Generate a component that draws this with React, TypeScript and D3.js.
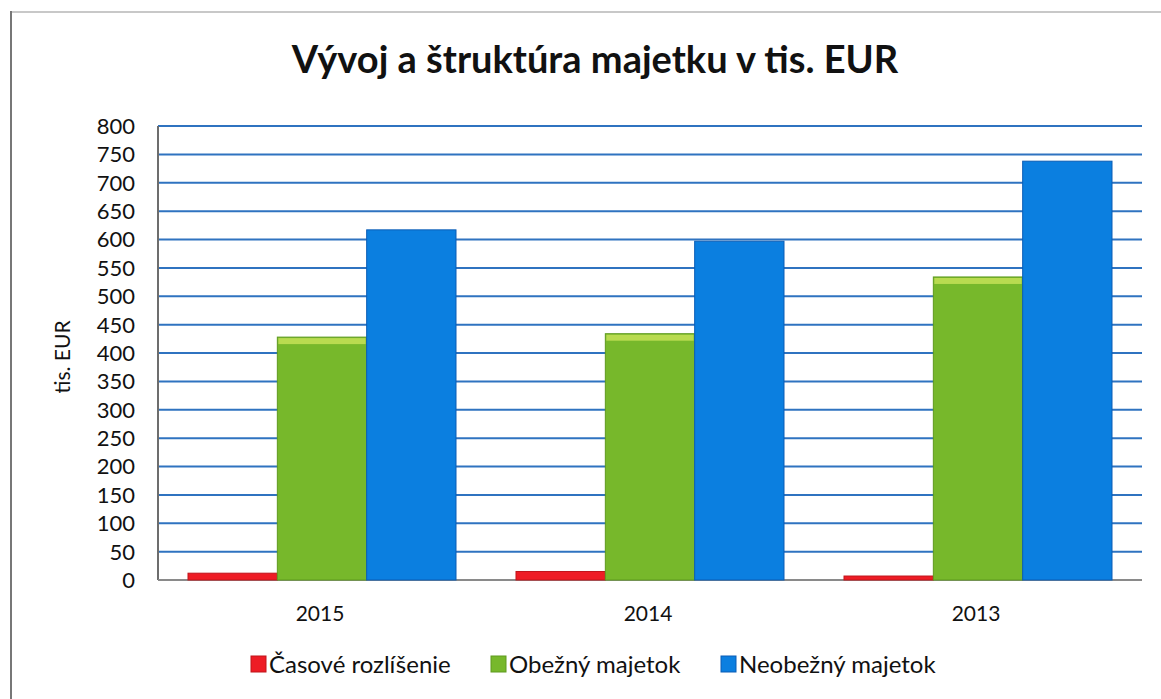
import React from 'react';
import * as d3 from 'd3';

// chart data
const years = ['2015', '2014', '2013'];
const seriesNames = ['Časové rozlíšenie', 'Obežný majetok', 'Neobežný majetok'];
const casoveRozlisenie = [12, 15, 7];
const obeznyMajetok = [428, 434, 534];
const neobeznyMajetok = [617, 597, 738];
const yTicks = [0, 50, 100, 150, 200, 250, 300, 350, 400, 450, 500, 550, 600, 650, 700, 750, 800];

const colors = ['#ee1c25', '#77b82b', '#0b7fe0'];
const edges = ['#c0141b', '#5f9a1f', '#0a5db5'];
const font = 'Lato, "Open Sans", sans-serif';

export default function App() {
  const W = 1161;
  const H = 699;
  const margin = { top: 126, right: 19, bottom: 119, left: 158 };
  const plotW = W - margin.left - margin.right;
  const plotH = H - margin.top - margin.bottom;

  const series = [casoveRozlisenie, obeznyMajetok, neobeznyMajetok];

  // x: years, inner x: series
  const x = d3.scaleBand().domain(years).range([0, plotW]).paddingInner(0).paddingOuter(0);
  const pad = 30;
  const xi = d3.scaleBand()
    .domain(seriesNames)
    .range([pad, x.bandwidth() - pad])
    .padding(0);
  const y = d3.scaleLinear().domain([0, 800]).range([plotH, 0]);

  // legend layout
  const legendX = [251, 491, 721];

  return (
    <svg width={W} height={H} style={{ display: 'block', position: 'absolute', left: 0, top: 0, background: '#fff' }}>
      {/* frame */}
      <line x1={11} y1={12} x2={W} y2={12} stroke="#c8c8c8" strokeWidth={2} />
      <line x1={11} y1={11} x2={11} y2={H} stroke="#777" strokeWidth={2} />

      <text x={595} y={73} textAnchor="middle" fontFamily={font} fontWeight={700} fontSize={38} fill="#111">
        Vývoj a štruktúra majetku v tis. EUR
      </text>

      <g transform={`translate(${margin.left},${margin.top})`}>
        {/* gridlines */}
        {yTicks.filter(t => t > 0).map(t => (
          <line key={t} x1={0} x2={plotW} y1={y(t)} y2={y(t)} stroke="#2f73c0" strokeWidth={2} />
        ))}
        {/* axes */}
        <line x1={0} x2={0} y1={0} y2={plotH} stroke="#6d6d6d" strokeWidth={2} />
        <line x1={0} x2={plotW} y1={plotH} y2={plotH} stroke="#8a8a8a" strokeWidth={2} />

        {/* y tick labels */}
        {yTicks.map(t => (
          <text key={t} x={-23} y={y(t)} dy="0.36em" textAnchor="end" fontFamily={font} fontSize={22} fill="#111">
            {t}
          </text>
        ))}

        {/* bars */}
        {years.map((yr, i) => (
          <g key={yr} transform={`translate(${x(yr)},0)`}>
            {series.map((s, j) => {
              const bx = xi(seriesNames[j]) as number;
              const bw = xi.bandwidth();
              const by = y(s[i]);
              const bh = plotH - by;
              return (
                <g key={j}>
                  <rect x={bx} y={by} width={bw} height={bh} fill={colors[j]} stroke={edges[j]} strokeWidth={1} />
                  {j === 1 && (
                    <rect x={bx + 1} y={by + 1} width={bw - 2} height={6} fill="#c9e35a" opacity={0.8} />
                  )}
                </g>
              );
            })}
            <text x={x.bandwidth() / 2 - 2} y={plotH + 41} textAnchor="middle" fontFamily={font} fontSize={21} fill="#111">
              {yr}
            </text>
          </g>
        ))}
      </g>

      {/* y axis title */}
      <text transform="translate(70,357) rotate(-90)" textAnchor="middle" fontFamily={font} fontSize={21} fill="#111">
        tis. EUR
      </text>

      {/* legend */}
      {seriesNames.map((name, j) => (
        <g key={name} transform={`translate(${legendX[j]},664)`}>
          <rect x={0} y={-8} width={15} height={16} fill={colors[j]} stroke={edges[j]} strokeWidth={1} />
          <text x={18} y={0} dy="0.36em" fontFamily={font} fontSize={24} fill="#111">
            {name}
          </text>
        </g>
      ))}
    </svg>
  );
}
